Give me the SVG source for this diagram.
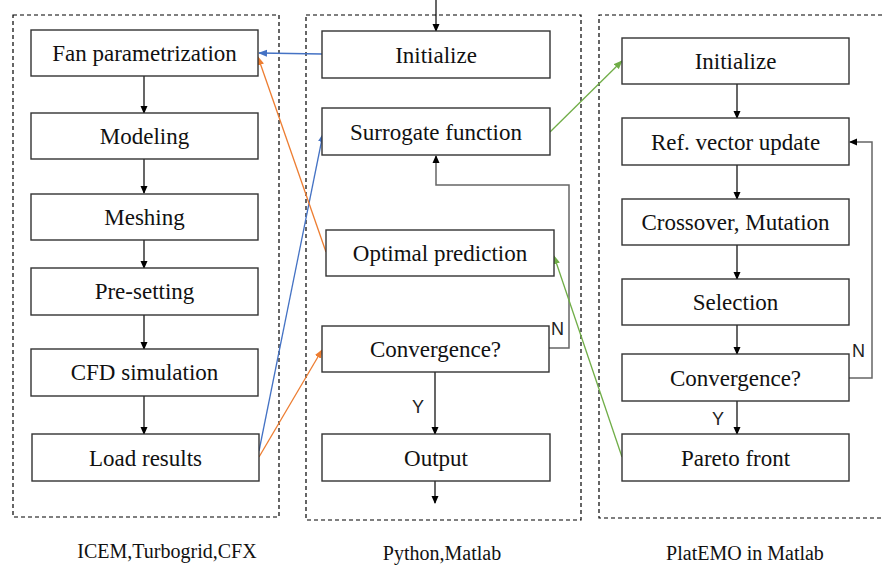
<svg xmlns="http://www.w3.org/2000/svg" width="883" height="568" viewBox="0 0 883 568">
<defs>
<style>
.frame{fill:none;stroke:#000;stroke-width:1.2;stroke-dasharray:4,3}
.box{fill:#fff;stroke:#333;stroke-width:1.4}
.t{font-family:"Liberation Serif","Times New Roman",serif;font-size:23px;fill:#111;text-anchor:middle}
.cap{font-family:"Liberation Serif","Times New Roman",serif;font-size:20px;fill:#111;text-anchor:middle}
.yn{font-family:"Liberation Sans",Arial,sans-serif;font-size:18px;fill:#222}
.k{fill:none;stroke:#000;stroke-width:1.2}
.g{fill:none;stroke:#666;stroke-width:1.5}
.blue{fill:none;stroke:#4472C4;stroke-width:1.3}
.orange{fill:none;stroke:#ED7D31;stroke-width:1.3}
.green{fill:none;stroke:#70AD47;stroke-width:1.3}
</style>
<marker id="ak" markerWidth="8" markerHeight="8" refX="7" refY="4" orient="auto" markerUnits="userSpaceOnUse"><path d="M0,0.5 L8,4 L0,7.5 z" fill="#000"/></marker>
<marker id="ab" markerWidth="9" markerHeight="8" refX="8" refY="4" orient="auto" markerUnits="userSpaceOnUse"><path d="M0,0.5 L9,4 L0,7.5 z" fill="#4472C4"/></marker>
<marker id="ao" markerWidth="9" markerHeight="8" refX="8" refY="4" orient="auto" markerUnits="userSpaceOnUse"><path d="M0,0.5 L9,4 L0,7.5 z" fill="#ED7D31"/></marker>
<marker id="ag" markerWidth="9" markerHeight="8" refX="8" refY="4" orient="auto" markerUnits="userSpaceOnUse"><path d="M0,0.5 L9,4 L0,7.5 z" fill="#70AD47"/></marker>
</defs>
<rect width="883" height="568" fill="#fff"/>

<g id="frames">
<rect class="frame" x="13" y="15" width="266" height="502"/>
<rect class="frame" x="306" y="15" width="275" height="505"/>
<path class="frame" d="M882,15 H599 V518 H882"/>
</g>

<g id="connectors">
<!-- left column -->
<line class="k" x1="144" y1="76" x2="144" y2="113" marker-end="url(#ak)"/>
<line class="k" x1="144" y1="159" x2="144" y2="193" marker-end="url(#ak)"/>
<line class="k" x1="144" y1="240" x2="144" y2="268" marker-end="url(#ak)"/>
<line class="k" x1="144" y1="315" x2="144" y2="349" marker-end="url(#ak)"/>
<line class="k" x1="144" y1="396" x2="144" y2="434" marker-end="url(#ak)"/>
<!-- middle column -->
<line class="k" x1="436" y1="0" x2="436" y2="31" marker-end="url(#ak)"/>
<line class="k" x1="435" y1="372" x2="435" y2="434" marker-end="url(#ak)"/>
<line class="k" x1="435" y1="481" x2="435" y2="503" marker-end="url(#ak)"/>
<path class="g" d="M549,348 H569 V185 H436 V156" marker-end="url(#ak)"/>
<!-- right column -->
<line class="k" x1="737" y1="84" x2="737" y2="118" marker-end="url(#ak)"/>
<line class="k" x1="737" y1="165" x2="737" y2="199" marker-end="url(#ak)"/>
<line class="k" x1="737" y1="245" x2="737" y2="279" marker-end="url(#ak)"/>
<line class="k" x1="737" y1="325" x2="737" y2="354" marker-end="url(#ak)"/>
<line class="k" x1="737" y1="401" x2="737" y2="434" marker-end="url(#ak)"/>
<path class="g" d="M849,378 H872 V142 H850" marker-end="url(#ak)"/>
<!-- colored -->
<line class="blue" x1="322" y1="54" x2="259" y2="53" marker-end="url(#ab)"/>
<line class="blue" x1="259" y1="451" x2="323" y2="134" marker-end="url(#ab)"/>
<line class="orange" x1="326" y1="252" x2="258" y2="57" marker-end="url(#ao)"/>
<line class="orange" x1="259" y1="457" x2="322" y2="350" marker-end="url(#ao)"/>
<line class="green" x1="550" y1="132" x2="622" y2="61" marker-end="url(#ag)"/>
<line class="green" x1="622" y1="457" x2="554" y2="256" marker-end="url(#ag)"/>
<text class="yn" x="551" y="335">N</text>
<text class="yn" x="852" y="357">N</text>
<text class="yn" x="412" y="413">Y</text>
<text class="yn" x="712" y="425">Y</text>
</g>

<g id="n-fan"><rect class="box" x="31" y="30" width="227" height="46"/><text class="t" x="144.5" y="61">Fan parametrization</text></g>
<g id="n-modeling"><rect class="box" x="31" y="113" width="227" height="46"/><text class="t" x="144.5" y="144">Modeling</text></g>
<g id="n-meshing"><rect class="box" x="31" y="194" width="227" height="46"/><text class="t" x="144.5" y="225">Meshing</text></g>
<g id="n-presetting"><rect class="box" x="31" y="268" width="227" height="47"/><text class="t" x="144.5" y="299">Pre-setting</text></g>
<g id="n-cfd"><rect class="box" x="31" y="349" width="227" height="47"/><text class="t" x="144.5" y="380">CFD simulation</text></g>
<g id="n-load"><rect class="box" x="32" y="434" width="227" height="47"/><text class="t" x="145.5" y="466">Load results</text></g>

<g id="n-init1"><rect class="box" x="322" y="31" width="228" height="47"/><text class="t" x="436" y="63">Initialize</text></g>
<g id="n-surrogate"><rect class="box" x="322" y="108" width="228" height="47"/><text class="t" x="436" y="140">Surrogate function</text></g>
<g id="n-optimal"><rect class="box" x="326" y="230" width="228" height="46"/><text class="t" x="440" y="261">Optimal prediction</text></g>
<g id="n-conv1"><rect class="box" x="322" y="326" width="227" height="46"/><text class="t" x="435.5" y="357">Convergence?</text></g>
<g id="n-output"><rect class="box" x="322" y="434" width="228" height="47"/><text class="t" x="436" y="466">Output</text></g>

<g id="n-init2"><rect class="box" x="622" y="38" width="227" height="46"/><text class="t" x="735.5" y="69">Initialize</text></g>
<g id="n-ref"><rect class="box" x="622" y="118" width="227" height="47"/><text class="t" x="735.5" y="150">Ref. vector update</text></g>
<g id="n-cross"><rect class="box" x="622" y="199" width="227" height="46"/><text class="t" x="735.5" y="230">Crossover, Mutation</text></g>
<g id="n-selection"><rect class="box" x="622" y="279" width="227" height="46"/><text class="t" x="735.5" y="310">Selection</text></g>
<g id="n-conv2"><rect class="box" x="622" y="354" width="227" height="47"/><text class="t" x="735.5" y="386">Convergence?</text></g>
<g id="n-pareto"><rect class="box" x="622" y="434" width="227" height="47"/><text class="t" x="735.5" y="466">Pareto front</text></g>

<g id="captions">
<text class="cap" x="167" y="558">ICEM,Turbogrid,CFX</text>
<text class="cap" x="442" y="560">Python,Matlab</text>
<text class="cap" x="745" y="560">PlatEMO in Matlab</text>
</g>
</svg>
